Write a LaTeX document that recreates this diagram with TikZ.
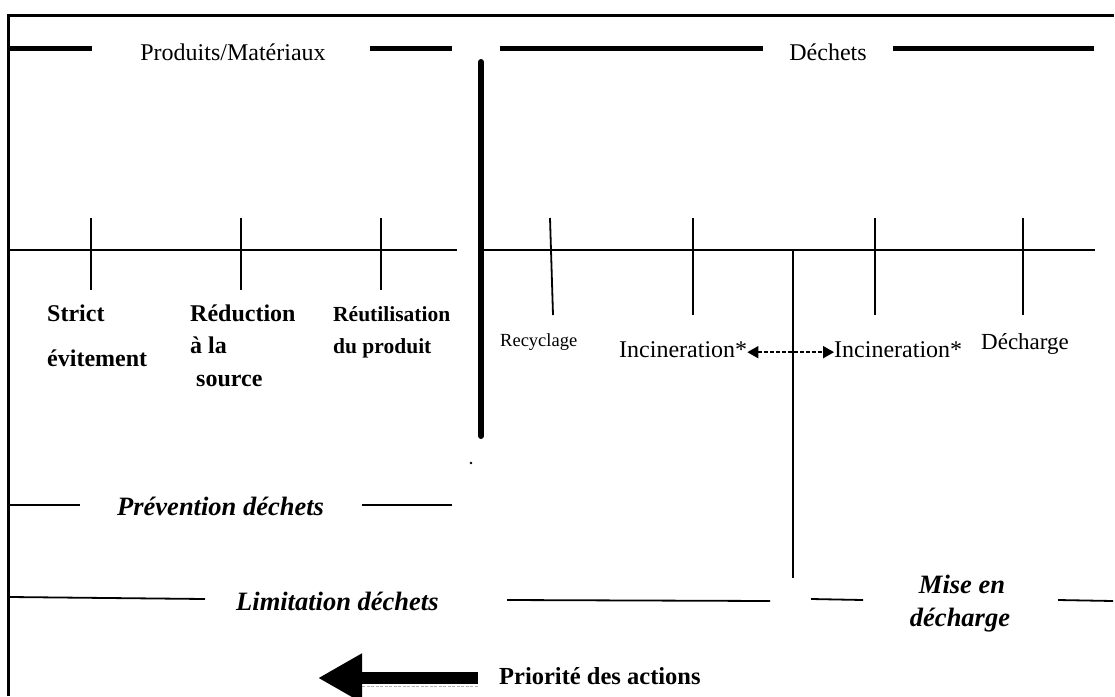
\documentclass[tikz,border=0pt]{standalone}
\usepackage{fontspec}
\setmainfont{Liberation Serif}
\usetikzlibrary{arrows.meta}
\begin{document}
\begin{tikzpicture}[x=1pt,y=-1pt,
  thinline/.style={line width=1.8pt},
  heavyline/.style={line width=5pt},
  lbl/.style={inner sep=0pt, anchor=base west},
  cbl/.style={inner sep=0pt, anchor=base},
  rm/.style={font=\fontsize{24}{28}\selectfont},
  bf/.style={font=\fontsize{24}{28}\selectfont\bfseries},
  bfs/.style={font=\fontsize{21.5}{26}\selectfont\bfseries},
  bi/.style={font=\fontsize{26.5}{31}\selectfont\bfseries\itshape},
]
\useasboundingbox (0,0) rectangle (1115,696);

% frame (top and left edges)
\draw[line width=3pt] (8,696) -- (8,15) -- (1114,15);

% headings with heavy dashes
\node[cbl,rm] (prod) at (233,60) {Produits/Matériaux};
\node[cbl,rm] (dech) at (828,60) {Déchets};
\draw[heavyline] (10,48) -- (92,48);
\draw[heavyline] (370,48) -- (452,48);
\draw[heavyline] (500,48) -- (763,48);
\draw[heavyline] (893,48) -- (1094,48);

% separator between products and waste
\draw[line width=6pt, line cap=round] (481,62) -- (481,436);
\fill (471,463) circle (1.3pt);

% scale lines
\draw[thinline] (10,250) -- (457,250);
\draw[thinline] (484,250) -- (1095,250);
\foreach \x in {91,241,381} \draw[thinline] (\x,218) -- (\x,290);
\draw[thinline] (550,218) -- (553,315);
\foreach \x in {693,875,1023} \draw[thinline] (\x,218) -- (\x,315);
\draw[thinline] (793,250) -- (793,578);

% product-side actions
\node[lbl,bf] (strict) at (47,321) {Strict};
\node[lbl,bf] (evit) at (47,366) {évitement};
\node[lbl,bf] (reduc) at (190,321) {Réduction};
\node[lbl,bf] (ala) at (190,353) {à la};
\node[lbl,bf] (source) at (196,386) {source};
\node[lbl,bfs] (reut) at (333,321) {Réutilisation};
\node[lbl,bfs] (duprod) at (333,353) {du produit};

% waste-side actions
\node[lbl,font=\fontsize{18.5}{22}\selectfont] (recy) at (500,346) {Recyclage};
\node[lbl,rm] (inc1) at (619,357) {Incineration*};
\node[lbl,rm] (inc2) at (834,357) {Incineration*};
\node[lbl,font=\fontsize{23}{27}\selectfont] (decharge) at (981,349) {Décharge};
\draw[line width=1.8pt, dash pattern=on 4pt off 2pt,
      {Triangle[length=11pt,width=12pt]}-{Triangle[length=11pt,width=12pt]}]
  ([yshift=-3pt]inc1.east) -- ([yshift=-3pt]inc2.west);

% domains
\node[lbl,bi] (prev) at (117,515) {Prévention déchets};
\draw[thinline] (10,505) -- (80,505);
\draw[thinline] (362,505) -- (452,505);

\node[lbl,bi] (limit) at (236,610) {Limitation déchets};
\draw[thinline] (10,597) -- (205,599);
\draw[thinline] (507,600) -- (770,601);
\draw[thinline] (811,599) -- (863,600);
\draw[thinline] (1058,600) -- (1113,601);
\node[cbl,bi] (mise) at (962,593) {Mise en};
\node[cbl,bi] (miseb) at (960,626) {décharge};

% priority arrow
\node[lbl,font=\fontsize{24.5}{29}\selectfont\bfseries] (prio) at (499,684) {Priorité des actions};
\coordinate (pa) at (478,678);
\coordinate (pt) at (318,678);
\draw[gray!60, line width=0.8pt, dash pattern=on 3pt off 1.5pt] (362,686) -- (478,686);
\draw[line width=12pt, -{Triangle[length=44pt,width=46pt]}] (pa) -- (pt);
\end{tikzpicture}
\end{document}
